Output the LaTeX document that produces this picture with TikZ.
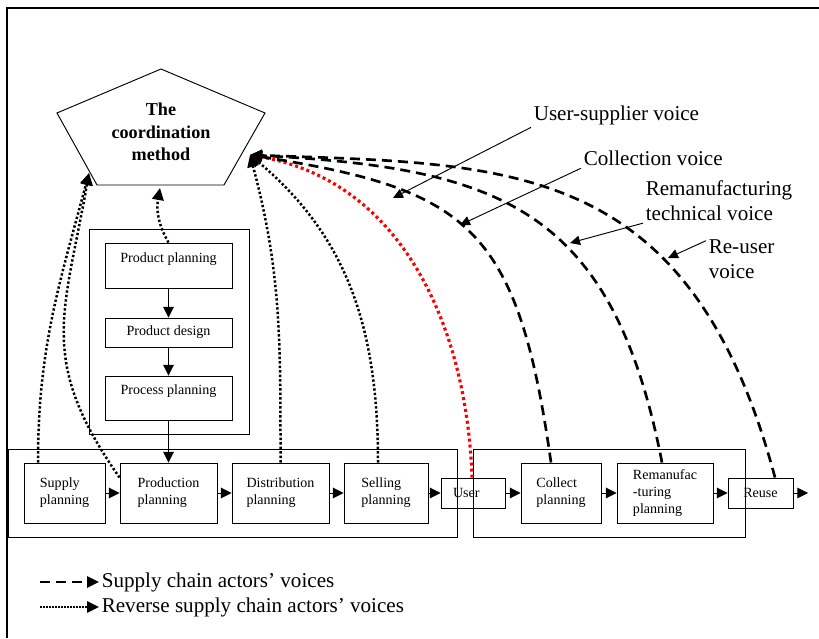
\documentclass[tikz,border=0pt]{standalone}
\usepackage{fontspec}
\setmainfont{Liberation Serif}
\usetikzlibrary{arrows.meta}

\begin{document}
\begin{tikzpicture}[x=0.3mm,y=0.3mm,thick,
    plan node/.style={draw,rectangle,align=left,inner sep=0pt,font=\fontsize{12}{14.5}\selectfont},
    voice label/.style={anchor=west,align=left,inner sep=2pt,font=\fontsize{18}{21}\selectfont},
    flow/.style={-{Triangle[length=3.2mm,width=3.2mm]}},
    pointer/.style={-{Triangle[length=3mm,width=2.8mm]}},
    dash voice/.style={-{Triangle[length=3.6mm,width=3.4mm]},line width=0.8mm,dash pattern=on 3mm off 1.8mm},
    dot voice/.style={-{Triangle[length=3.6mm,width=3.4mm]},line width=0.75mm,dash pattern=on 0.7mm off 0.65mm}]
    \useasboundingbox (0,0) rectangle (819,638);

    % frame
    \draw[line width=0.8mm] (7,0) -- (7,630) -- (819,630);

    % coordination method
    \draw (161,569) -- (265,525) -- (224,453) -- (97,453) -- (57,525) -- cycle;
    \node[align=center,font=\fontsize{15.5}{19}\selectfont\bfseries] (coord) at (161,506) {The\\coordination\\method};
    \coordinate (cR) at (250,483);
    \coordinate (cLL) at (89,465);
    \coordinate (cB) at (160,450);

    % design side
    \node[draw,minimum width=48mm,minimum height=61.5mm] (dev) at (169,306.5) {};
    \node[plan node,minimum width=38.1mm,minimum height=13.5mm] (pplan) at (168.5,372.5) {\raisebox{4.8mm}{Product planning}};
    \node[plan node,minimum width=38.1mm,minimum height=8.7mm] (pdes) at (168.5,305.5) {Product design};
    \node[plan node,minimum width=38.1mm,minimum height=13.2mm] (proc) at (168.5,240) {\raisebox{4.8mm}{Process planning}};

    % chains
    \draw (8,101) rectangle (457,189);
    \draw (473,101) rectangle (745,189);

    \node[plan node,minimum width=24.3mm,minimum height=18mm] (sup) at (64.5,145) {Supply\\planning};
    \node[plan node,minimum width=29.1mm,minimum height=18mm] (prod) at (168.5,145) {Production\\planning};
    \node[plan node,minimum width=29.1mm,minimum height=18mm] (dist) at (280.5,145) {Distribution\\planning};
    \node[plan node,minimum width=25.2mm,minimum height=18mm] (sell) at (386,145) {Selling\\planning};
    \node[plan node,minimum width=19.2mm,minimum height=9mm] (user) at (473,145) {User\hspace{4mm}};
    \node[plan node,minimum width=24mm,minimum height=18mm] (coll) at (561,145) {Collect\\planning};
    \node[plan node,minimum width=28.8mm,minimum height=18mm] (reman) at (665,145) {Remanufac\\-turing\\planning};
    \node[plan node,minimum width=19.5mm,minimum height=9mm] (reuse) at (760.5,145) {Reuse};
    \coordinate (out) at (808,145);

    \path[flow] (pplan) edge (pdes);
    \path[flow] (pdes) edge (proc);
    \path[flow] (proc) edge (prod);
    \path[flow] (sup) edge (prod);
    \path[flow] (prod) edge (dist);
    \path[flow] (dist) edge (sell);
    \path[flow] (sell) edge (user);
    \path[flow] (user) edge (coll);
    \path[flow] (coll) edge (reman);
    \path[flow] (reman) edge (reuse);
    \path[flow] (reuse) edge (out);

    % voices
    \path[dot voice] ([xshift=-7.95mm]sup.north) edge[out=90,in=-105] (cLL);
    \path[dot voice] ([yshift=-4.5mm]prod.north west) edge[out=125,in=-100,looseness=1.2] (cLL);
    \path[dot voice] (pplan.north) edge[out=120,in=-100] (cB);
    \path[dot voice] (dist.north) edge[out=90,in=-75] (cR);
    \path[dot voice] ([xshift=-2.4mm]sell.north) edge[out=90,in=-40] (cR);
    \path[dot voice,red,line width=0.95mm,dash pattern=on 0.9mm off 0.9mm] ([xshift=-0.3mm]user.north) edge[out=92,in=-10] (cR);
    \path[dash voice] ([xshift=-3mm]coll.north) edge[out=98,in=-9,out distance=72mm,in distance=66mm] (cR);
    \path[dash voice] ([xshift=-0.9mm]reman.north) edge[out=101,in=-3,out distance=78mm,in distance=75mm] (cR);
    \path[dash voice] ([xshift=4.35mm]reuse.north) edge[out=105,in=-2,out distance=99mm,in distance=78mm] (cR);

    % voice labels
    \node[voice label] (lab1) at (531,523) {User-supplier voice};
    \node[voice label] (lab2) at (581,480) {Collection voice};
    \node[voice label] (lab3) at (643,437.5) {Remanufacturing\\technical voice};
    \node[voice label] (lab4) at (706,378.5) {Re-user\\voice};
    \coordinate (p1) at (393,440);
    \coordinate (p2) at (460,413);
    \coordinate (p3) at (570,395);
    \coordinate (p4) at (668,380);
    \path[pointer] (lab1.south west) edge (p1);
    \path[pointer] (lab2.south west) edge (p2);
    \path[pointer] (lab3.south west) edge (p3);
    \path[pointer] ([yshift=-1mm]lab4.north west) edge (p4);

    % legend
    \node[voice label] (leg1) at (99,56) {Supply chain actors’ voices};
    \node[voice label] (leg2) at (99,31) {Reverse supply chain actors’ voices};
    \coordinate (l1) at (40,56);
    \coordinate (l2) at (40,31);
    \path[dash voice,line width=0.6mm] (l1) edge (leg1.west);
    \path[dot voice,line width=0.45mm,dash pattern=on 0.45mm off 0.45mm] (l2) edge (leg2.west);
\end{tikzpicture}
\end{document}
